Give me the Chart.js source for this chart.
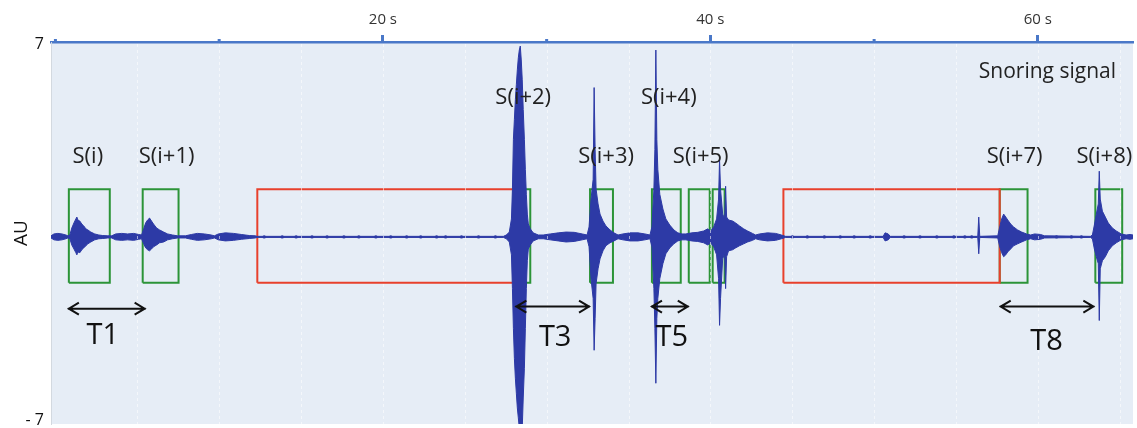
<!DOCTYPE html>
<html>
<head>
<meta charset="utf-8">
<script src="https://cdn.jsdelivr.net/npm/chart.js@4.4.0/dist/chart.umd.min.js"></script>
<style>
  html, body { margin: 0; padding: 0; background: #fff; overflow: hidden; }
  canvas { display: block; }
</style>
</head>
<body>
<canvas id="snoreChart" width="1137" height="428"></canvas>
<script>
// axis ticks
const xTickValues = [0, 10, 20, 30, 40, 50, 60];
const xTickLabels = ['', '', '20 s', '', '40 s', '', '60 s'];
const yTickValues = [7, -7];
const yTickLabels = ['7', '- 7'];

// envelope of the trace: time (s), upper / lower value (AU)
const sigTime = [
  -0.27, -0.09, 0.15, 0.40, 0.64, 0.76, 0.88, 1.00, 1.13, 1.25,
  1.31, 1.37, 1.49, 1.61, 1.73, 1.86, 1.98, 2.16, 2.40, 2.65,
  2.89, 3.20, 3.44, 3.68, 4.05, 4.41, 4.78, 5.08, 5.26, 5.39,
  5.51, 5.63, 5.75, 5.87, 5.99, 6.18, 6.36, 6.61, 6.85, 7.15,
  7.46, 7.94, 8.31, 8.67, 9.10, 9.52, 9.71, 9.95, 10.38, 10.87,
  11.35, 11.84, 12.20, 12.33, 27.36, 27.54, 27.72, 27.85, 27.91, 27.97,
  28.03, 28.09, 28.15, 28.21, 28.27, 28.33, 28.39, 28.45, 28.51, 28.57,
  28.64, 28.70, 28.76, 28.82, 28.88, 29.00, 29.18, 29.49, 29.79, 30.22,
  30.71, 31.19, 31.68, 32.17, 32.47, 32.59, 32.71, 32.84, 32.90, 32.96,
  33.02, 33.14, 33.26, 33.44, 33.62, 33.87, 34.11, 34.36, 34.66, 35.09,
  35.58, 36.00, 36.31, 36.43, 36.55, 36.61, 36.67, 36.73, 36.79, 36.91,
  37.10, 37.28, 37.52, 37.77, 38.01, 38.26, 38.50, 38.86, 39.23, 39.59,
  39.84, 40.02, 40.20, 40.38, 40.50, 40.56, 40.62, 40.75, 40.87, 40.93,
  40.99, 41.11, 41.36, 41.54, 41.78, 42.03, 42.27, 42.57, 42.76, 43.00,
  43.49, 43.98, 44.34, 44.59, 50.55, 50.67, 50.86, 50.98, 56.33, 56.39,
  56.45, 57.55, 57.67, 57.79, 57.91, 58.04, 58.16, 58.34, 58.52, 58.76,
  59.01, 59.31, 59.56, 59.80, 60.16, 60.41, 63.21, 63.33, 63.45, 63.57,
  63.69, 63.75, 63.81, 63.94, 64.12, 64.30, 64.55, 64.79, 65.09, 65.39,
  65.63, 65.81
];
const sigUpper = [
  -0.13, -0.06, -0.04, -0.06, -0.10, -0.13, -0.10, 0.16, 0.35, 0.50,
  0.57, 0.46, 0.42, 0.31, 0.24, 0.13, 0.09, 0.01, -0.06, -0.10,
  -0.12, -0.13, -0.13, -0.06, -0.04, -0.06, -0.04, -0.08, -0.10, 0.13,
  0.35, 0.46, 0.53, 0.42, 0.31, 0.16, 0.09, 0.01, -0.06, -0.10,
  -0.13, -0.13, -0.08, -0.04, -0.06, -0.10, -0.13, -0.06, -0.02, -0.04,
  -0.08, -0.12, -0.13, -0.15, -0.15, -0.10, 0.01, 0.50, 1.61, 3.47,
  4.21, 4.95, 5.51, 6.06, 6.51, 6.80, 6.95, 6.43, 5.69, 4.58,
  3.47, 2.35, 1.42, 0.68, 0.31, 0.13, -0.02, -0.10, -0.10, -0.06,
  -0.02, 0.01, 0.00, -0.06, -0.10, 0.20, 1.24, 1.98, 5.40, 3.09,
  1.61, 1.06, 0.68, 0.42, 0.24, 0.09, -0.02, -0.10, -0.06, -0.02,
  -0.02, -0.06, -0.10, 0.20, 1.61, 3.09, 6.80, 3.47, 2.35, 1.42,
  0.87, 0.50, 0.27, 0.09, -0.02, -0.06, -0.06, -0.02, 0.00, 0.05,
  0.13, 0.05, 0.20, 0.50, 1.24, 2.72, 1.61, 0.68, 0.50, 1.72,
  0.57, 0.46, 0.42, 0.35, 0.24, 0.13, 0.05, -0.04, -0.10, -0.06,
  -0.02, -0.04, -0.10, -0.15, -0.15, -0.02, -0.06, -0.15, -0.15, 0.57,
  -0.15, -0.13, 0.20, 0.50, 0.68, 0.57, 0.46, 0.31, 0.20, 0.09,
  0.01, -0.06, -0.10, -0.06, -0.08, -0.13, -0.15, -0.10, 0.27, 0.68,
  1.06, 2.28, 1.24, 0.79, 0.57, 0.35, 0.16, 0.05, -0.06, -0.10,
  -0.08, -0.10
];
const sigLower = [
  -0.21, -0.28, -0.30, -0.28, -0.24, -0.21, -0.24, -0.47, -0.62, -0.76,
  -0.84, -0.73, -0.76, -0.65, -0.58, -0.50, -0.43, -0.36, -0.28, -0.24,
  -0.23, -0.21, -0.21, -0.28, -0.30, -0.28, -0.30, -0.26, -0.24, -0.43,
  -0.58, -0.65, -0.69, -0.62, -0.54, -0.47, -0.39, -0.36, -0.28, -0.24,
  -0.21, -0.21, -0.26, -0.30, -0.28, -0.24, -0.21, -0.28, -0.32, -0.30,
  -0.26, -0.23, -0.21, -0.19, -0.19, -0.24, -0.36, -0.84, -2.10, -3.58,
  -4.70, -5.44, -6.00, -6.55, -6.92, -7.30, -7.67, -7.67, -7.30, -6.18,
  -5.07, -3.58, -2.10, -1.06, -0.62, -0.47, -0.32, -0.24, -0.24, -0.28,
  -0.32, -0.36, -0.34, -0.28, -0.24, -0.54, -1.73, -2.47, -4.40, -3.21,
  -1.91, -1.36, -0.99, -0.69, -0.50, -0.39, -0.32, -0.24, -0.28, -0.32,
  -0.32, -0.28, -0.24, -0.54, -2.10, -3.58, -5.63, -3.21, -2.47, -1.73,
  -1.17, -0.80, -0.58, -0.43, -0.32, -0.28, -0.28, -0.32, -0.34, -0.39,
  -0.47, -0.39, -0.54, -0.84, -1.73, -3.47, -2.47, -0.99, -0.80, -2.10,
  -0.91, -0.69, -0.65, -0.58, -0.50, -0.43, -0.36, -0.30, -0.24, -0.28,
  -0.32, -0.30, -0.24, -0.19, -0.19, -0.32, -0.28, -0.19, -0.19, -0.80,
  -0.19, -0.21, -0.54, -0.76, -0.91, -0.84, -0.73, -0.62, -0.50, -0.43,
  -0.36, -0.28, -0.24, -0.28, -0.26, -0.21, -0.19, -0.24, -0.62, -0.91,
  -1.17, -3.29, -1.36, -1.06, -0.91, -0.69, -0.50, -0.39, -0.28, -0.24,
  -0.26, -0.24
];

// little blips on the quiet stretches
const blipTime = [12.75, 13.85, 14.70, 15.67, 16.59, 17.62, 18.53, 19.57, 20.48, 21.45,
  22.31, 23.28, 23.83, 24.80, 25.84, 26.87, 45.01, 45.92, 46.96, 47.93, 48.78, 49.76,
  51.83, 52.80, 53.83, 54.87, 55.54, 55.96, 61.14, 62.05, 62.66];
const blipValue = -0.17;

// snore windows (green) and silent gaps (red), in s, and their AU extent
const snoreStart = [0.82, 5.33, 27.97, 32.65, 36.43, 38.68, 40.14, 57.67, 63.51];
const snoreEnd = [3.32, 7.52, 29.00, 34.05, 38.19, 39.96, 40.87, 59.37, 65.15];
const gapStart = [12.33, 44.46];
const gapEnd = [28.09, 57.67];
const boxUpper = 1.61;
const boxLower = -1.88;

// event names
const eventNames = ['S(i)', 'S(i+1)', 'S(i+2)', 'S(i+3)', 'S(i+4)', 'S(i+5)', 'S(i+7)', 'S(i+8)'];
const eventNameTime = [1.98, 6.79, 28.57, 33.63, 37.46, 39.41, 58.58, 64.06];
const eventNameValue = [2.83, 2.83, 5.02, 2.83, 5.02, 2.83, 2.83, 2.83];

// intervals between snores
const periodNames = ['T1', 'T3', 'T5', 'T8'];
const periodStart = [0.76, 28.09, 36.37, 57.67];
const periodEnd = [5.51, 32.65, 38.68, 63.45];
const periodValue = [-2.85, -2.77, -2.77, -2.77];
const periodNameTime = [2.89, 30.52, 37.64, 60.53];
const periodNameValue = [-3.84, -3.95, -3.95, -4.07];

const minorTicks = [0, 10, 30, 50];

const BLUE = '#2d3aa6';
const AXIS = '#4a78c8';
const FONT = 'Open Sans';

const datasets = [
  {
    data: sigTime.map((t, i) => ({x: t, y: sigUpper[i]})),
    borderColor: BLUE, backgroundColor: BLUE, borderWidth: 1,
    fill: '+1', pointRadius: 0, tension: 0
  },
  {
    data: sigTime.map((t, i) => ({x: t, y: sigLower[i]})),
    borderColor: BLUE, borderWidth: 1, fill: false, pointRadius: 0, tension: 0
  },
  {
    data: blipTime.map(t => ({x: t, y: blipValue})),
    showLine: false, pointRadius: 1.7, pointBackgroundColor: BLUE, pointBorderWidth: 0
  }
];

function boxData(t0, t1) {
  return [{x: t0, y: boxLower}, {x: t0, y: boxUpper}, {x: t1, y: boxUpper},
          {x: t1, y: boxLower}, {x: t0, y: boxLower}];
}
gapStart.forEach((t, i) => datasets.push({
  data: boxData(t, gapEnd[i]), borderColor: '#e8402c', borderWidth: 2,
  fill: false, pointRadius: 0, tension: 0
}));
snoreStart.forEach((t, i) => datasets.push({
  data: boxData(t, snoreEnd[i]), borderColor: '#2c9438', borderWidth: 2,
  fill: false, pointRadius: 0, tension: 0
}));

const decorations = {
  id: 'decorations',
  beforeDraw(chart) {
    const {ctx, chartArea: a} = chart;
    ctx.save();
    ctx.fillStyle = '#e6edf6';
    ctx.fillRect(a.left, a.top, a.right - a.left, a.bottom - a.top);
    ctx.restore();
  },
  afterDatasetsDraw(chart) {
    const {ctx, chartArea: a, scales: {x, y}} = chart;
    ctx.save();
    // faint dashed grid every 5 s
    ctx.strokeStyle = 'rgba(255,255,255,0.55)';
    ctx.lineWidth = 1;
    ctx.setLineDash([3, 3]);
    for (let t = 5; t < x.max; t += 5) {
      const px = Math.round(x.getPixelForValue(t)) + 0.5;
      ctx.beginPath();
      ctx.moveTo(px, a.top + 2);
      ctx.lineTo(px, a.bottom);
      ctx.stroke();
    }
    ctx.setLineDash([]);

    // arrows
    ctx.strokeStyle = '#111';
    ctx.fillStyle = '#111';
    ctx.lineWidth = 2;
    ctx.textAlign = 'center';
    ctx.textBaseline = 'middle';
    periodNames.forEach((name, i) => {
      const x0 = x.getPixelForValue(periodStart[i]);
      const x1 = x.getPixelForValue(periodEnd[i]);
      const py = y.getPixelForValue(periodValue[i]);
      ctx.beginPath();
      ctx.moveTo(x0, py); ctx.lineTo(x1, py);
      ctx.moveTo(x0 + 11, py - 6); ctx.lineTo(x0 + 1, py); ctx.lineTo(x0 + 11, py + 6);
      ctx.moveTo(x1 - 11, py - 6); ctx.lineTo(x1 - 1, py); ctx.lineTo(x1 - 11, py + 6);
      ctx.stroke();
      ctx.font = '29px "' + FONT + '"';
      ctx.fillText(name, x.getPixelForValue(periodNameTime[i]), y.getPixelForValue(periodNameValue[i]));
    });

    // event labels
    ctx.fillStyle = '#222';
    ctx.font = '22px "' + FONT + '"';
    eventNames.forEach((name, i) => {
      ctx.fillText(name, x.getPixelForValue(eventNameTime[i]), y.getPixelForValue(eventNameValue[i]));
    });

    ctx.textAlign = 'right';
    ctx.font = '21px "' + FONT + '"';
    ctx.fillText('Snoring signal', a.right - 17, a.top + 30);

    // small minor ticks on the time axis
    ctx.fillStyle = AXIS;
    minorTicks.forEach(t => {
      const px = x.getPixelForValue(t);
      ctx.fillRect(px - 1.5, a.top - 3, 3, 3);
    });
    ctx.restore();
  }
};

new Chart(document.getElementById('snoreChart'), {
  type: 'line',
  data: {datasets},
  options: {
    responsive: false,
    animation: false,
    devicePixelRatio: 1,
    layout: {padding: {left: 0, right: 0, top: 0, bottom: 2}},
    plugins: {legend: {display: false}, tooltip: {enabled: false}},
    scales: {
      x: {
        type: 'linear', position: 'top', min: -0.27, max: 65.81,
        afterFit(s) { s.height = 42; s.paddingLeft = 0; s.paddingRight = 0; },
        afterBuildTicks(s) { s.ticks = xTickValues.map(v => ({value: v})); },
        ticks: {
          autoSkip: false, maxRotation: 0, padding: 6, color: '#333',
          font: {family: FONT, size: 15},
          callback: (v, i) => xTickLabels[i]
        },
        grid: {
          drawOnChartArea: false, tickLength: 7, tickWidth: 3,
          tickColor: c => xTickLabels[c.index] ? AXIS : 'rgba(0,0,0,0)'
        },
        border: {color: AXIS, width: 2.5}
      },
      y: {
        min: -7.15, max: 7.1,
        afterFit(s) { s.width = 51; s.paddingTop = 0; s.paddingBottom = 0; },
        afterBuildTicks(s) { s.ticks = yTickValues.map(v => ({value: v})); },
        ticks: {
          padding: 7, color: '#111', font: {family: FONT, size: 16},
          callback: (v, i) => yTickLabels[i]
        },
        grid: {display: false, drawTicks: false},
        border: {display: true, color: '#d3d9e0', width: 1},
        title: {
          display: true, text: 'AU', color: '#111',
          font: {family: FONT, size: 19}, padding: {top: 10, bottom: 0}
        }
      }
    }
  },
  plugins: [decorations]
});
</script>
</body>
</html>
